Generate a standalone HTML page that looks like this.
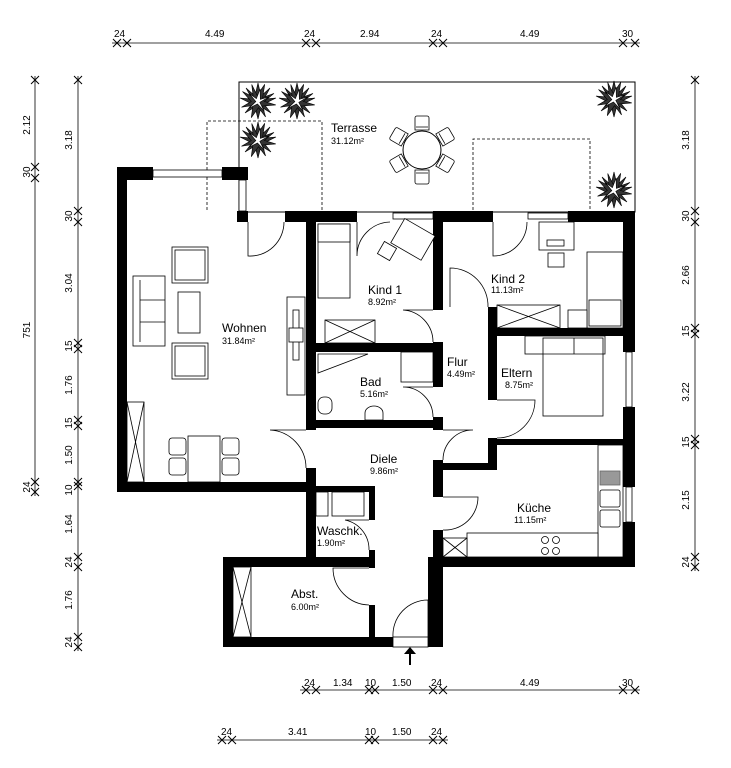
<!DOCTYPE html>
<html><head><meta charset="utf-8"><style>
html,body{margin:0;padding:0;background:#fff}
svg{display:block}
text{font-family:"Liberation Sans",sans-serif;fill:#000}
.n{font-size:12px}
.a{font-size:9px}
.d{font-size:10px}
</style></head><body>
<svg width="731" height="768" viewBox="0 0 731 768" xmlns="http://www.w3.org/2000/svg">
<defs>
<g id="st">
<polygon points="0,-18 3,-5 12,-13 6,-2 18,-3 6,3 13,12 3,6 0,18 -3,6 -13,12 -6,3 -18,-3 -6,-2 -12,-13 -3,-5" fill="#333" stroke="#000" stroke-width="0.6"/>
</g>
<g id="pl">
<use href="#st"/>
<use href="#st" transform="rotate(22)"/>
<polygon points="0,-12 2,-2 10,-6 2,1 8,9 0,3 -8,9 -2,1 -10,-6 -2,-2" fill="#fff" stroke="#000" stroke-width="0.6" transform="rotate(10)"/>
</g>
<g id="tk"><line x1="-4" y1="-4" x2="4" y2="4" stroke="#000"/><line x1="-4" y1="4" x2="4" y2="-4" stroke="#000"/></g>
<g id="tc"><path d="M-7,0 V-12 a2,2 0 0 1 2,-2 H5 a2,2 0 0 1 2,2 V0 Z M-6,-3 H6" fill="#fff" stroke="#000" stroke-width="0.8"/></g>
</defs>

<!-- terrace -->
<rect x="239" y="82" width="396" height="130" fill="none" stroke="#000" stroke-width="1"/>
<path d="M207,210 V121 H322 V210" fill="none" stroke="#000" stroke-width="0.8" stroke-dasharray="3,2"/>
<path d="M473,210 V139 H590 V210" fill="none" stroke="#000" stroke-width="0.8" stroke-dasharray="3,2"/>
<use href="#pl" x="258" y="101"/><use href="#pl" x="297" y="101"/><use href="#pl" x="258" y="140"/>
<use href="#pl" x="614" y="99"/><use href="#pl" x="614" y="190"/>
<g transform="translate(422,150)">
<use href="#tc" transform="rotate(0) translate(0,-20)"/>
<use href="#tc" transform="rotate(60) translate(0,-20)"/>
<use href="#tc" transform="rotate(120) translate(0,-20)"/>
<use href="#tc" transform="rotate(180) translate(0,-20)"/>
<use href="#tc" transform="rotate(240) translate(0,-20)"/>
<use href="#tc" transform="rotate(300) translate(0,-20)"/>
<circle r="19" fill="#fff" stroke="#000"/>
</g>

<!-- windows (thin) -->
<g stroke="#000" stroke-width="0.8" fill="#fff">
<rect x="153" y="170" width="69" height="7"/>
<rect x="239" y="180" width="7" height="31"/>
<rect x="393" y="213" width="40" height="6"/>
<rect x="528" y="213" width="40" height="6"/>
<rect x="626" y="352" width="6" height="55"/>
<rect x="626" y="487" width="6" height="35"/>
</g>

<!-- walls -->
<g fill="#000">
<rect x="117" y="167" width="36" height="13"/>
<rect x="222" y="167" width="26" height="13"/>
<rect x="237" y="211" width="11" height="11"/>
<rect x="285" y="211" width="72" height="11"/>
<rect x="433" y="211" width="60" height="11"/>
<rect x="568" y="211" width="67" height="11"/>
<rect x="117" y="167" width="10" height="325"/>
<rect x="117" y="482" width="199" height="10"/>
<rect x="306" y="211" width="10" height="219"/>
<rect x="306" y="468" width="10" height="89"/>
<rect x="316" y="343" width="117" height="9"/>
<rect x="316" y="420" width="117" height="8"/>
<rect x="433" y="211" width="10" height="99"/>
<rect x="433" y="342" width="10" height="45"/>
<rect x="433" y="417" width="10" height="13"/>
<rect x="433" y="460" width="10" height="37"/>
<rect x="433" y="530" width="10" height="117"/>
<rect x="488" y="307" width="9" height="93"/>
<rect x="488" y="438" width="9" height="32"/>
<rect x="443" y="463" width="54" height="7"/>
<rect x="497" y="328" width="126" height="8"/>
<rect x="497" y="439" width="126" height="6"/>
<rect x="623" y="211" width="12" height="141"/>
<rect x="623" y="407" width="12" height="80"/>
<rect x="623" y="522" width="12" height="45"/>
<rect x="433" y="557" width="202" height="10"/>
<rect x="316" y="486" width="59" height="6"/>
<rect x="369" y="486" width="6" height="34"/>
<rect x="369" y="550" width="6" height="18"/>
<rect x="369" y="605" width="6" height="32"/>
<rect x="223" y="557" width="152" height="10"/>
<rect x="223" y="557" width="10" height="90"/>
<rect x="223" y="637" width="170" height="10"/>
<rect x="428" y="557" width="15" height="90"/>
</g>

<!-- doors -->
<g fill="none" stroke="#000" stroke-width="0.8">
<path d="M248,222 V256 A34,34 0 0 0 284,222"/>
<path d="M357,222 V256 A34,34 0 0 1 390,222"/>
<path d="M493,222 V256 A34,34 0 0 0 527,222"/>
<path d="M433,310 H403 A32,32 0 0 1 433,342"/>
<path d="M433,387 H403 A30,30 0 0 1 433,417"/>
<path d="M443,430 H473 A30,30 0 0 0 443,460"/>
<path d="M443,497 H478 A33,33 0 0 1 443,530"/>
<path d="M306,430 H270 A38,38 0 0 1 306,468"/>
<path d="M450,307 V268 A38,38 0 0 1 488,307"/>
<path d="M497,400 H535 A38,38 0 0 1 497,438"/>
<path d="M369,520 H345 A30,30 0 0 1 369,550"/>
<path d="M369,568 H333 A37,37 0 0 0 369,605"/>
<path d="M428,637 V600 A35,35 0 0 0 393,637"/>
<rect x="393" y="637" width="35" height="10"/>
</g>
<line x1="410" y1="665" x2="410" y2="652" stroke="#000" stroke-width="2"/>
<polygon points="404,654 416,654 410,647" fill="#000"/>

<!-- furniture -->
<g fill="#fff" stroke="#000" stroke-width="0.8">
<rect x="133" y="276" width="32" height="70"/><line x1="140" y1="280" x2="140" y2="342"/>
<line x1="140" y1="300" x2="165" y2="300"/><line x1="140" y1="322" x2="165" y2="322"/>
<rect x="172" y="247" width="36" height="36"/><rect x="175" y="250" width="30" height="30"/>
<rect x="172" y="343" width="36" height="36"/><rect x="175" y="346" width="30" height="30"/>
<rect x="178" y="292" width="22" height="41"/>
<rect x="287" y="297" width="18" height="98"/><rect x="293" y="310" width="6" height="50"/><rect x="289" y="328" width="14" height="14"/>
<rect x="127" y="402" width="17" height="80"/><line x1="127" y1="402" x2="144" y2="482"/><line x1="144" y1="402" x2="127" y2="482"/>
<rect x="188" y="436" width="32" height="46"/>
<rect x="169" y="438" width="17" height="17" rx="3"/><rect x="169" y="458" width="17" height="17" rx="3"/>
<rect x="222" y="438" width="17" height="17" rx="3"/><rect x="222" y="458" width="17" height="17" rx="3"/>
<rect x="318" y="224" width="32" height="74"/><rect x="318" y="224" width="32" height="18"/>
<rect x="325" y="320" width="50" height="23"/><line x1="325" y1="320" x2="375" y2="343"/><line x1="375" y1="320" x2="325" y2="343"/>
<rect x="395" y="225" width="35" height="28" transform="rotate(30 412 240)"/>
<rect x="380" y="244" width="14" height="14" transform="rotate(30 387 251)"/>
<polygon points="318,354 368,354 318,373"/>
<rect x="401" y="352" width="32" height="30"/>
<rect x="318" y="397" width="14" height="17" rx="6"/>
<path d="M365,420 v-7 a9,7 0 0 1 18,0 v7 z"/>
<rect x="316" y="492" width="12" height="24"/><rect x="332" y="492" width="32" height="24"/>
<rect x="233" y="567" width="18" height="70"/><line x1="233" y1="567" x2="251" y2="637"/><line x1="251" y1="567" x2="233" y2="637"/>
<rect x="539" y="222" width="35" height="28"/><rect x="547" y="240" width="17" height="6"/>
<rect x="548" y="253" width="16" height="14"/>
<rect x="587" y="252" width="36" height="76"/><rect x="589" y="300" width="32" height="26"/>
<rect x="497" y="305" width="63" height="23"/><line x1="497" y1="305" x2="560" y2="328"/><line x1="560" y1="305" x2="497" y2="328"/>
<rect x="568" y="310" width="19" height="18"/>
<rect x="525" y="336" width="80" height="18"/>
<rect x="543" y="338" width="60" height="78"/>
<line x1="574" y1="338" x2="574" y2="354"/><line x1="543" y1="354" x2="603" y2="354"/>
<rect x="598" y="445" width="25" height="112"/>
<rect x="600" y="471" width="20" height="14" fill="#999" stroke="#666"/>
<rect x="600" y="490" width="20" height="17" rx="2"/><rect x="600" y="510" width="20" height="17" rx="2"/>
<rect x="467" y="533" width="131" height="24"/>
<circle cx="545" cy="540" r="3.5"/><circle cx="556" cy="540" r="3.5"/><circle cx="545" cy="551" r="3.5"/><circle cx="556" cy="551" r="3.5"/>
<rect x="443" y="538" width="24" height="19"/><line x1="443" y1="538" x2="467" y2="557"/><line x1="467" y1="538" x2="443" y2="557"/>
</g>

<!-- room labels -->
<text class="n" x="331" y="132">Terrasse</text><text class="a" x="331" y="144">31.12m²</text>
<text class="n" x="222" y="332">Wohnen</text><text class="a" x="222" y="344">31.84m²</text>
<text class="n" x="368" y="294">Kind 1</text><text class="a" x="368" y="305">8.92m²</text>
<text class="n" x="360" y="386">Bad</text><text class="a" x="360" y="397">5.16m²</text>
<text class="n" x="370" y="463">Diele</text><text class="a" x="370" y="474">9.86m²</text>
<text class="n" x="447" y="366">Flur</text><text class="a" x="447" y="377">4.49m²</text>
<text class="n" x="491" y="283">Kind 2</text><text class="a" x="491" y="293">11.13m²</text>
<text class="n" x="501" y="377">Eltern</text><text class="a" x="505" y="388">8.75m²</text>
<text class="n" x="517" y="512">Küche</text><text class="a" x="514" y="523">11.15m²</text>
<text class="n" x="317" y="535">Waschk.</text><text class="a" x="317" y="546">1.90m²</text>
<text class="n" x="291" y="598">Abst.</text><text class="a" x="291" y="610">6.00m²</text>

<!-- dimension lines -->
<g stroke="#000" stroke-width="0.8">
<line x1="112" y1="43" x2="640" y2="43"/>
<line x1="300" y1="690" x2="640" y2="690"/>
<line x1="217" y1="740" x2="448" y2="740"/>
<line x1="35" y1="76" x2="35" y2="496"/>
<line x1="78" y1="76" x2="78" y2="651"/>
<line x1="695" y1="76" x2="695" y2="571"/>
</g>
<g>
<use href="#tk" x="117" y="43"/><use href="#tk" x="127" y="43"/><use href="#tk" x="306" y="43"/><use href="#tk" x="316" y="43"/><use href="#tk" x="433" y="43"/><use href="#tk" x="443" y="43"/><use href="#tk" x="623" y="43"/><use href="#tk" x="635" y="43"/>
<use href="#tk" x="306" y="690"/><use href="#tk" x="316" y="690"/><use href="#tk" x="369" y="690"/><use href="#tk" x="375" y="690"/><use href="#tk" x="433" y="690"/><use href="#tk" x="443" y="690"/><use href="#tk" x="623" y="690"/><use href="#tk" x="635" y="690"/>
<use href="#tk" x="222" y="740"/><use href="#tk" x="232" y="740"/><use href="#tk" x="369" y="740"/><use href="#tk" x="375" y="740"/><use href="#tk" x="433" y="740"/><use href="#tk" x="443" y="740"/>
<use href="#tk" x="35" y="80"/><use href="#tk" x="35" y="167"/><use href="#tk" x="35" y="178"/><use href="#tk" x="35" y="482"/><use href="#tk" x="35" y="492"/>
<use href="#tk" x="78" y="80"/><use href="#tk" x="78" y="211"/><use href="#tk" x="78" y="222"/><use href="#tk" x="78" y="343"/><use href="#tk" x="78" y="349"/><use href="#tk" x="78" y="420"/><use href="#tk" x="78" y="426"/><use href="#tk" x="78" y="482"/><use href="#tk" x="78" y="486"/><use href="#tk" x="78" y="557"/><use href="#tk" x="78" y="567"/><use href="#tk" x="78" y="637"/><use href="#tk" x="78" y="647"/>
<use href="#tk" x="695" y="80"/><use href="#tk" x="695" y="211"/><use href="#tk" x="695" y="222"/><use href="#tk" x="695" y="328"/><use href="#tk" x="695" y="334"/><use href="#tk" x="695" y="439"/><use href="#tk" x="695" y="445"/><use href="#tk" x="695" y="557"/><use href="#tk" x="695" y="567"/>
</g>
<g>
<text class="d" x="114" y="37">24</text><text class="d" x="205" y="37">4.49</text><text class="d" x="304" y="37">24</text><text class="d" x="360" y="37">2.94</text><text class="d" x="431" y="37">24</text><text class="d" x="520" y="37">4.49</text><text class="d" x="622" y="37">30</text>
<text class="d" x="304" y="686">24</text><text class="d" x="333" y="686">1.34</text><text class="d" x="365" y="686">10</text><text class="d" x="392" y="686">1.50</text><text class="d" x="431" y="686">24</text><text class="d" x="520" y="686">4.49</text><text class="d" x="622" y="686">30</text>
<text class="d" x="221" y="735">24</text><text class="d" x="288" y="735">3.41</text><text class="d" x="365" y="735">10</text><text class="d" x="392" y="735">1.50</text><text class="d" x="431" y="735">24</text>
</g>
<g font-size="10" font-family="Liberation Sans, sans-serif">
<text transform="translate(30,125) rotate(-90)" text-anchor="middle">2.12</text>
<text transform="translate(30,172) rotate(-90)" text-anchor="middle">30</text>
<text transform="translate(30,330) rotate(-90)" text-anchor="middle">751</text>
<text transform="translate(30,487) rotate(-90)" text-anchor="middle">24</text>
<text transform="translate(72,140) rotate(-90)" text-anchor="middle">3.18</text>
<text transform="translate(72,216) rotate(-90)" text-anchor="middle">30</text>
<text transform="translate(72,283) rotate(-90)" text-anchor="middle">3.04</text>
<text transform="translate(72,346) rotate(-90)" text-anchor="middle">15</text>
<text transform="translate(72,385) rotate(-90)" text-anchor="middle">1.76</text>
<text transform="translate(72,423) rotate(-90)" text-anchor="middle">15</text>
<text transform="translate(72,455) rotate(-90)" text-anchor="middle">1.50</text>
<text transform="translate(72,490) rotate(-90)" text-anchor="middle">10</text>
<text transform="translate(72,524) rotate(-90)" text-anchor="middle">1.64</text>
<text transform="translate(72,562) rotate(-90)" text-anchor="middle">24</text>
<text transform="translate(72,600) rotate(-90)" text-anchor="middle">1.76</text>
<text transform="translate(72,642) rotate(-90)" text-anchor="middle">24</text>
<text transform="translate(689,140) rotate(-90)" text-anchor="middle">3.18</text>
<text transform="translate(689,216) rotate(-90)" text-anchor="middle">30</text>
<text transform="translate(689,275) rotate(-90)" text-anchor="middle">2.66</text>
<text transform="translate(689,331) rotate(-90)" text-anchor="middle">15</text>
<text transform="translate(689,392) rotate(-90)" text-anchor="middle">3.22</text>
<text transform="translate(689,442) rotate(-90)" text-anchor="middle">15</text>
<text transform="translate(689,500) rotate(-90)" text-anchor="middle">2.15</text>
<text transform="translate(689,562) rotate(-90)" text-anchor="middle">24</text>
</g>
</svg>
</body></html>
